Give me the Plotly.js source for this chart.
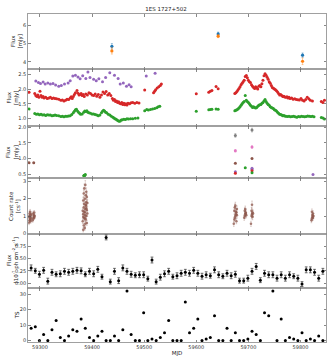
<!DOCTYPE html>
<html>
<head>
<meta charset="utf-8">
<script src="https://cdn.plot.ly/plotly-3.0.1.min.js"></script>
<style>
html, body { margin: 0; padding: 0; background: #fff; }
#lc { width: 332px; height: 362px; }
</style>
</head>
<body>
<div id="lc"></div>
<script>
// optical (panel 1)
var optMjd = [59438, 59642, 59804];
var optBlue = [4.85, 5.52, 4.37];
var optBlueErr = [0.15, 0.1, 0.12];
var optOrange = [4.6, 5.4, 4.04];
var optOrangeErr = [0.17, 0.08, 0.18];

// optical light curves (panel 2)
var purpleMjd = [59292, 59297, 59301, 59306, 59310, 59315, 59320, 59325, 59330, 59336, 59341, 59347, 59354, 59358,
  59363, 59368, 59373, 59377, 59382, 59388, 59392, 59396, 59403, 59408, 59413, 59420, 59426, 59434, 59443, 59450,
  59454, 59460, 59466, 59471, 59475, 59504, 59521];
var purpleFlux = [2.27, 2.22, 2.19, 2.24, 2.17, 2.21, 2.17, 2.19, 2.14, 2.10, 2.12, 2.17, 2.21, 2.28,
  2.44, 2.47, 2.41, 2.35, 2.45, 2.36, 2.58, 2.39, 2.33, 2.28, 2.35, 2.25, 2.39, 2.55, 2.47, 2.36,
  2.17, 2.21, 2.10, 2.15, 2.08, 2.44, 2.54];

var redMjd = [59279, 59290, 59292, 59294, 59296, 59298, 59300, 59302, 59304, 59306, 59308, 59311, 59314, 59317,
  59320, 59323, 59326, 59329, 59332, 59336, 59340, 59343, 59346, 59349, 59352, 59355, 59358, 59360, 59362, 59364,
  59366, 59368, 59371, 59373, 59375, 59377, 59379, 59381, 59383, 59385, 59388, 59391, 59394, 59397, 59400, 59403,
  59406, 59409, 59412, 59415, 59418, 59421, 59424, 59427, 59430, 59433, 59436, 59439, 59441, 59443, 59445, 59447,
  59449, 59451, 59453, 59455, 59457, 59459, 59461, 59463, 59465, 59467, 59469, 59472, 59475, 59478, 59482, 59486,
  59490, 59501, 59518, 59520, 59522, 59525, 59528, 59531, 59533, 59600, 59624, 59627, 59630, 59638, 59642,
  59674, 59676, 59678, 59680, 59682, 59684, 59686, 59688, 59690, 59692, 59694, 59696, 59698, 59700, 59702, 59704,
  59706, 59708, 59710, 59712, 59714, 59716, 59718, 59720, 59722, 59724, 59726, 59728, 59730, 59732, 59734, 59736,
  59738, 59740, 59742, 59744, 59746, 59748, 59750, 59752, 59754, 59756, 59758, 59760, 59762, 59764, 59766, 59768,
  59770, 59772, 59774, 59776, 59778, 59780, 59783, 59786, 59789, 59792, 59795, 59798, 59801, 59804, 59807, 59810,
  59813, 59816, 59819, 59823, 59840, 59843, 59846];
var redFlux = [1.89, 1.85, 1.78, 1.75, 1.80, 1.72, 1.93, 1.78, 1.72, 1.75, 1.70, 1.72, 1.68, 1.70,
  1.72, 1.68, 1.70, 1.68, 1.67, 1.66, 1.62, 1.63, 1.60, 1.62, 1.66, 1.65, 1.70, 1.74, 1.68, 1.75,
  1.82, 1.88, 1.95, 1.86, 1.80, 1.82, 1.85, 1.78, 1.82, 1.75, 1.83, 1.80, 1.88, 1.85, 1.80, 1.78,
  1.83, 1.76, 1.82, 1.72, 1.80, 1.90, 1.85, 1.92, 1.80, 1.85, 1.78, 1.68, 1.62, 1.65, 1.58, 1.60,
  1.55, 1.57, 1.52, 1.50, 1.55, 1.48, 1.52, 1.47, 1.50, 1.46, 1.52, 1.50, 1.54, 1.55, 1.52, 1.55,
  1.53, 1.97, 1.88, 1.93, 1.98, 2.04, 2.08, 2.12, 2.17, 1.84, 1.89, 1.93, 1.95, 2.09, 2.01,
  1.85, 1.88, 1.92, 1.97, 2.02, 2.08, 2.15, 2.20, 2.25, 2.30, 2.43, 2.46, 2.38, 2.30, 2.25, 2.22,
  2.15, 2.10, 2.05, 2.02, 2.08, 2.04, 2.00, 2.10, 2.12, 2.08, 2.18, 2.30, 2.45, 2.52, 2.47, 2.40,
  2.33, 2.25, 2.20, 2.12, 2.05, 2.03, 2.00, 1.98, 1.94, 1.90, 1.85, 1.80, 1.82, 1.78, 1.75, 1.76,
  1.73, 1.72, 1.74, 1.70, 1.72, 1.68, 1.70, 1.66, 1.67, 1.65, 1.64, 1.63, 1.68, 1.62, 1.60, 1.65,
  1.72, 1.67, 1.62, 1.60, 1.58, 1.55, 1.62];

var greenMjd = [59279, 59290, 59293, 59296, 59299, 59302, 59305, 59308, 59311, 59314, 59317, 59320, 59323, 59326,
  59329, 59332, 59336, 59340, 59343, 59346, 59349, 59352, 59355, 59358, 59361, 59364, 59366, 59368, 59370, 59372,
  59374, 59376, 59378, 59381, 59384, 59386, 59388, 59390, 59392, 59394, 59397, 59400, 59403, 59406, 59409, 59412,
  59415, 59418, 59420, 59422, 59424, 59426, 59428, 59431, 59434, 59437, 59440, 59442, 59444, 59446, 59448, 59450,
  59452, 59454, 59456, 59458, 59461, 59464, 59467, 59470, 59474, 59478, 59483, 59488,
  59501, 59505, 59508, 59512, 59516, 59520, 59524, 59527, 59530,
  59600, 59624, 59627, 59630, 59638, 59642,
  59674, 59676, 59678, 59680, 59682, 59684, 59686, 59688, 59690, 59692, 59694, 59696, 59698, 59700, 59702, 59704,
  59706, 59708, 59710, 59712, 59714, 59716, 59718, 59720, 59722, 59724, 59726, 59728, 59730, 59732, 59734, 59736,
  59738, 59740, 59742, 59744, 59746, 59748, 59750, 59752, 59754, 59756, 59758, 59760, 59762, 59764, 59766, 59768,
  59770, 59772, 59775, 59778, 59781, 59784, 59787, 59790, 59793, 59796, 59799, 59802, 59805, 59808, 59811, 59814,
  59817, 59820, 59823, 59826, 59840, 59843, 59846];
var greenFlux = [1.33, 1.17, 1.15, 1.16, 1.13, 1.15, 1.12, 1.13, 1.11, 1.13, 1.12, 1.12, 1.10, 1.11,
  1.12, 1.11, 1.10, 1.07, 1.08, 1.06, 1.08, 1.08, 1.09, 1.10, 1.14, 1.20, 1.25, 1.30, 1.32, 1.26,
  1.22, 1.18, 1.15, 1.16, 1.22, 1.26, 1.24, 1.27, 1.22, 1.20, 1.18, 1.16, 1.16, 1.14, 1.12, 1.10,
  1.12, 1.20, 1.25, 1.28, 1.26, 1.22, 1.20, 1.15, 1.12, 1.08, 1.05, 1.02, 1.00, 0.98, 0.95, 0.93,
  0.91, 0.92, 0.95, 0.96, 0.98, 0.97, 1.00, 0.99, 1.00, 1.00, 1.01, 1.02,
  1.27, 1.31, 1.29, 1.31, 1.33, 1.34, 1.37, 1.40, 1.42,
  1.25, 1.30, 1.31, 1.32, 1.33, 1.32,
  1.27, 1.28, 1.30, 1.33, 1.36, 1.40, 1.45, 1.50, 1.55, 1.58, 1.78, 1.62, 1.58, 1.55, 1.50, 1.45,
  1.42, 1.38, 1.40, 1.38, 1.36, 1.38, 1.42, 1.45, 1.47, 1.48, 1.52, 1.55, 1.60, 1.65, 1.58, 1.52,
  1.48, 1.45, 1.40, 1.38, 1.36, 1.34, 1.30, 1.28, 1.26, 1.22, 1.18, 1.15, 1.14, 1.12, 1.10, 1.11,
  1.09, 1.08, 1.07, 1.08, 1.06, 1.07, 1.08, 1.06, 1.05, 1.07, 1.06, 1.08, 1.07, 1.06, 1.07, 1.09,
  1.08, 1.07, 1.08, 1.06, 1.04, 1.02, 0.99];

// UV (panel 3)
var uvGreyMjd = [59675, 59707];
var uvGrey = [1.74, 1.91];
var uvPinkMjd = [59675, 59707];
var uvPink = [1.25, 1.37];
var uvBrownMjd = [59279, 59288, 59675, 59707];
var uvBrown = [0.87, 0.87, 0.85, 1.0];
var uvPurpleMjd = [59675, 59707, 59707, 59824];
var uvPurple = [0.58, 0.69, 0.65, 0.49];
var uvRedMjd = [59675, 59707];
var uvRed = [0.53, 0.61];
var uvGreenMjd = [59384, 59385, 59386, 59387, 59694, 59707];
var uvGreen = [0.45, 0.47, 0.46, 0.49, 0.71, 0.55];

// X-ray count rate (panel 4)
var xrtMjd = [59279, 59279, 59280, 59280, 59281, 59281, 59282, 59282, 59283, 59283, 59280, 59282,
  59286, 59287, 59287, 59288, 59288, 59289, 59289, 59290,
  59382, 59382, 59383, 59383, 59383, 59384, 59384, 59384, 59385, 59385, 59385, 59386, 59386, 59386,
  59387, 59387, 59387, 59388, 59388, 59388, 59389, 59389, 59389, 59390, 59390, 59390, 59391, 59391,
  59383, 59385, 59387, 59389, 59386, 59388,
  59672, 59673, 59673, 59674, 59674, 59675, 59675, 59676, 59676, 59677, 59677, 59678, 59678,
  59692, 59693, 59693, 59694, 59694, 59695, 59695, 59696,
  59705, 59706, 59706, 59707, 59707, 59708, 59708, 59709,
  59821, 59822, 59822, 59823, 59823, 59824, 59824, 59825];
var xrtRate = [0.62, 0.95, 0.75, 1.15, 0.85, 1.25, 1.05, 0.7, 0.9, 1.1, 1.0, 0.8,
  0.75, 0.85, 1.15, 0.95, 1.05, 0.9, 1.2, 1.0,
  0.7, 1.3, 0.2, 1.1, 1.9, 0.45, 1.5, 2.3, 0.9, 1.7, 2.6, 0.3, 1.2, 2.0,
  0.55, 1.4, 2.8, 0.8, 1.6, 2.2, 1.0, 1.8, 2.4, 0.6, 1.35, 2.1, 1.15, 1.75,
  0.95, 1.25, 1.05, 1.45, 0.85, 1.65,
  0.55, 0.8, 1.3, 0.9, 1.5, 1.0, 1.6, 1.1, 1.25, 1.2, 0.7, 1.4, 1.05,
  0.9, 1.0, 1.3, 1.1, 1.4, 1.2, 1.15, 1.05,
  0.55, 1.0, 1.3, 1.1, 1.65, 1.2, 0.95, 1.15,
  0.75, 0.85, 1.25, 0.95, 1.05, 1.15, 0.9, 1.0];
var xrtErr = [0.12, 0.12, 0.12, 0.13, 0.12, 0.13, 0.13, 0.12, 0.12, 0.13, 0.12, 0.12,
  0.11, 0.11, 0.12, 0.11, 0.12, 0.11, 0.12, 0.11,
  0.15, 0.17, 0.12, 0.16, 0.2, 0.13, 0.18, 0.22, 0.15, 0.2, 0.25, 0.12, 0.17, 0.2,
  0.14, 0.18, 0.25, 0.15, 0.19, 0.22, 0.16, 0.2, 0.23, 0.14, 0.18, 0.21, 0.17, 0.2,
  0.16, 0.17, 0.16, 0.18, 0.15, 0.19,
  0.15, 0.16, 0.2, 0.16, 0.2, 0.17, 0.2, 0.17, 0.18, 0.18, 0.15, 0.19, 0.17,
  0.15, 0.16, 0.18, 0.16, 0.18, 0.17, 0.17, 0.16,
  0.15, 0.17, 0.2, 0.18, 0.22, 0.18, 0.17, 0.18,
  0.14, 0.14, 0.16, 0.15, 0.15, 0.16, 0.15, 0.15];

// Fermi-LAT bins (panels 5 and 6)
var latMjd = [59283, 59291, 59299, 59307, 59315, 59323, 59331, 59339, 59347, 59355,
  59363, 59371, 59379, 59387, 59395, 59403, 59411, 59419, 59427, 59435,
  59443, 59451, 59459, 59467, 59475, 59483, 59491, 59499, 59507, 59515,
  59523, 59531, 59539, 59547, 59555, 59563, 59571, 59579, 59587, 59595,
  59603, 59611, 59619, 59627, 59635, 59643, 59651, 59659, 59667, 59675,
  59683, 59691, 59699, 59707, 59715, 59723, 59731, 59739, 59747, 59755,
  59763, 59771, 59779, 59787, 59795, 59803, 59811, 59819, 59827, 59835,
  59843];
var latFlux = [0.31, 0.25, 0.18, 0.26, 0.04, 0.22, 0.18, 0.19, 0.24, 0.22,
  0.24, 0.26, 0.25, 0.18, 0.24, 0.19, 0.28, 0.13, 0.93, 0.03,
  0.24, 0.05, 0.31, 0.24, 0.18, 0.16, 0.17, 0.17, 0.09, 0.47,
  0.03, 0.12, 0.19, 0.24, 0.13, 0.15, 0.20, 0.22, 0.20, 0.26,
  0.20, 0.14, 0.17, 0.15, 0.27, 0.17, 0.14, 0.20, 0.15, 0.18,
  0.05, 0.05, 0.10, 0.24, 0.34, 0.06, 0.20, 0.17, 0.17, 0.10,
  0.17, 0.10, 0.17, 0.14, 0.10, -0.02, 0.27, 0.27, 0.22, 0.10,
  0.24];
var latErr = [0.06, 0.05, 0.06, 0.06, 0.06, 0.06, 0.05, 0.06, 0.06, 0.06,
  0.06, 0.06, 0.06, 0.05, 0.06, 0.06, 0.06, 0.05, 0.05, 0.05,
  0.06, 0.06, 0.06, 0.06, 0.06, 0.05, 0.06, 0.06, 0.05, 0.06,
  0.05, 0.06, 0.06, 0.06, 0.05, 0.06, 0.06, 0.06, 0.06, 0.06,
  0.06, 0.06, 0.06, 0.05, 0.06, 0.06, 0.05, 0.06, 0.06, 0.06,
  0.05, 0.05, 0.06, 0.06, 0.06, 0.05, 0.06, 0.06, 0.06, 0.06,
  0.06, 0.06, 0.06, 0.05, 0.06, 0.05, 0.06, 0.06, 0.06, 0.06,
  0.06];
var latTS = [8, 9, 0, 4, 0, 7, 13, 2, 0, 3,
  7, 6, 14, 8, 2, 0, 3, 6, 0, 0,
  3, 0, 7, 32, 4, 0, 0, 18, 0, 1,
  0, 2, 5, 13, 0, 0, 0, 25, 5, 8,
  14, 0, 1, 2, 16, 0, 0, 8, 0, 5,
  0, 0, 1, 6, 4, 0, 18, 16, 32, 0,
  14, 0, 2, 1, 0, 5, 0, 1, 0, 3,
  0];

var xTicks = [59300, 59400, 59500, 59600, 59700, 59800];

function pts(n, x, y, color, size, err, errColor, errWidth) {
  var sfx = n > 1 ? String(n) : '';
  var t = {
    x: x, y: y, xaxis: 'x' + sfx, yaxis: 'y' + sfx,
    type: 'scatter', mode: 'markers', showlegend: false,
    marker: {color: color, size: size, line: {width: 0}}
  };
  if (err) {
    t.error_y = {type: 'data', array: err, visible: true, color: errColor || color,
                 thickness: 0.7, width: errWidth || 0};
  }
  return t;
}

var data = [
  pts(1, optMjd, optBlue, '#1f77b4', 3.2, optBlueErr, 'rgba(31,119,180,0.55)', 1),
  pts(1, optMjd, optOrange, '#ff7f0e', 3.2, optOrangeErr, 'rgba(255,127,14,0.55)', 1),
  pts(2, purpleMjd, purpleFlux, '#9467bd', 3),
  pts(2, redMjd, redFlux, '#d62728', 3),
  pts(2, greenMjd, greenFlux, '#2ca02c', 3),
  pts(3, uvGreyMjd, uvGrey, '#7f7f7f', 3, [0.06, 0.06], 'rgba(127,127,127,0.6)', 1),
  pts(3, uvPinkMjd, uvPink, '#e377c2', 3, [0.04, 0.04], 'rgba(227,119,194,0.6)', 1),
  pts(3, uvBrownMjd, uvBrown, '#8c564b', 3),
  pts(3, uvPurpleMjd, uvPurple, '#9467bd', 3),
  pts(3, uvRedMjd, uvRed, '#d62728', 3),
  pts(3, uvGreenMjd, uvGreen, '#2ca02c', 3),
  pts(4, xrtMjd, xrtRate, 'rgba(140,86,75,0.75)', 2.6, xrtErr, 'rgba(140,86,75,0.35)', 0.8),
  pts(5, latMjd, latFlux, '#000', 3, latErr, '#333', 1.4),
  pts(6, latMjd, latTS, '#000', 3)
];

var doms = [[0.8323, 1], [0.6585, 0.8323], [0.5, 0.6585], [0.3293, 0.5], [0.1646, 0.3293], [0, 0.1646]];
var yRanges = [[3.62, 6.6], [0.75, 2.68], [0.38, 2.04], [-0.04, 3.2], [-0.1, 1.0], [-0.9, 34]];
var yTickVals = [[4, 5, 6], [1.0, 1.5, 2.0, 2.5], [0.5, 1.0, 1.5, 2.0], [0, 1, 2, 3],
  [0, 0.25, 0.5, 0.75], [0, 10, 20, 30]];
var yFormats = ['d', '.1f', '.1f', 'd', '.2f', 'd'];
var yLabels = ['Flux<br>[mJy]', 'Flux<br>[mJy]', 'Flux<br>[mJy]', 'Count rate<br>[cs<sup>-1</sup>]',
  'Flux<br>[10<sup>-7</sup> ph cm<sup>-2</sup> s<sup>-1</sup>]', 'TS'];
var yLabelX = [-0.040, -0.052, -0.052, -0.044, -0.052, -0.036];

var tickFont = {family: 'DejaVu Sans', size: 5, color: '#333'};

var layout = {
  width: 332, height: 362,
  margin: {l: 28, r: 6, t: 14, b: 20},
  paper_bgcolor: '#fff', plot_bgcolor: '#fff',
  font: {family: 'DejaVu Sans', size: 5, color: '#333'},
  title: {text: '1ES 1727+502', font: {family: 'DejaVu Sans', size: 5.5, color: '#222'},
          x: 0.5, xref: 'container', y: 0.975, yanchor: 'middle'},
  annotations: []
};

for (var i = 0; i < 6; i++) {
  var n = i + 1;
  var sfx = n > 1 ? String(n) : '';
  layout['xaxis' + sfx] = {
    anchor: 'y' + sfx, domain: [0, 1], range: [59277, 59849],
    tickvals: xTicks, tickformat: 'd', showticklabels: n === 6,
    ticks: 'inside', ticklen: 2.5, tickwidth: 0.7, tickcolor: '#555',
    showline: true, linecolor: '#888', linewidth: 0.8, mirror: 'ticks',
    showgrid: false, zeroline: false, tickfont: tickFont
  };
  if (n > 1) layout['xaxis' + sfx].matches = 'x';
  layout['yaxis' + sfx] = {
    anchor: 'x' + sfx, domain: doms[i], range: yRanges[i],
    tickvals: yTickVals[i], tickformat: yFormats[i],
    ticks: 'inside', ticklen: 2.5, tickwidth: 0.7, tickcolor: '#555',
    showline: true, linecolor: '#888', linewidth: 0.8, mirror: 'ticks',
    showgrid: false, zeroline: false, tickfont: tickFont
  };
  layout.annotations.push({
    text: yLabels[i], textangle: -90, showarrow: false,
    xref: 'paper', yref: 'paper', x: yLabelX[i], xanchor: 'center',
    y: (doms[i][0] + doms[i][1]) / 2, yanchor: 'middle',
    font: {family: 'DejaVu Sans', size: 5.5, color: '#222'}
  });
}
layout.xaxis6.title = {text: 'MJD', font: {family: 'DejaVu Sans', size: 5.5, color: '#222'}, standoff: 2};

Plotly.newPlot('lc', data, layout, {displayModeBar: false, staticPlot: true});
</script>
</body>
</html>
